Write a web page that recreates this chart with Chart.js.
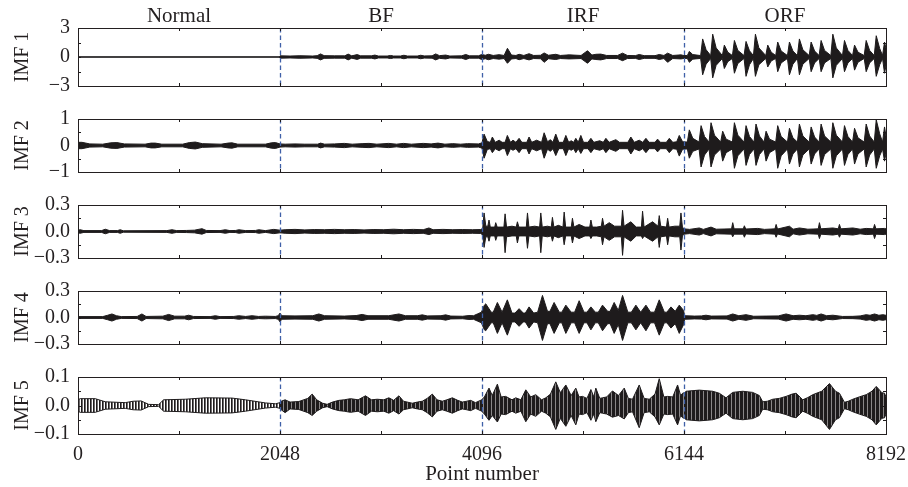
<!DOCTYPE html>
<html>
<head>
<meta charset="utf-8">
<script src="https://cdn.jsdelivr.net/npm/chart.js@4/dist/chart.umd.min.js"></script>
<style>
  html, body { margin: 0; padding: 0; background: #ffffff; }
  #wrap { position: relative; width: 908px; height: 487px; background: #ffffff; overflow: hidden; }
  #wrap canvas { position: absolute; left: 0; }
</style>
</head>
<body>
<div id="wrap">
  <canvas id="c0"></canvas>
  <canvas id="c1"></canvas>
  <canvas id="c2"></canvas>
  <canvas id="c3"></canvas>
  <canvas id="c4"></canvas>
</div>
<script>
// Fault conditions along the concatenated record
const conditionNames = ['Normal', 'BF', 'IRF', 'ORF'];
const conditionCenters = [1024, 3072, 5120, 7168];
const separators = [2048, 4096, 6144];
const pointTicks = [0, 2048, 4096, 6144, 8192];
const pointTickLabels = ['0', '2048', '4096', '6144', '8192'];
const minorPointTicks = [0, 1024, 2048, 3072, 4096, 5120, 6144, 7168, 8192];

// Y axis limits and tick labels per IMF
const imfNames = ['IMF 1', 'IMF 2', 'IMF 3', 'IMF 4', 'IMF 5'];
const imfLimits = [3, 1, 0.3, 0.3, 0.1];
const imfTickLabels = [
  ['\u22123', '0', '3'],
  ['\u22121', '0', '1'],
  ['\u22120.3', '0.0', '0.3'],
  ['\u22120.3', '0.0', '0.3'],
  ['\u22120.1', '0.0', '0.1']
];

// Envelopes of each IMF: [point number, upper envelope, lower envelope]
const imf1Env = [
  [0,0.015,-0.015],[2040,0.015,-0.015],
  [2048,0.12,-0.12],[2150,0.1,-0.1],[2250,0.13,-0.13],[2380,0.1,-0.1],[2425,0.14,-0.14],[2459,0.32,-0.3],[2495,0.14,-0.14],
  [2600,0.12,-0.12],[2705,0.12,-0.12],[2739,0.3,-0.3],[2775,0.12,-0.12],[2831,0.25,-0.25],[2865,0.12,-0.12],[2975,0.12,-0.12],
  [3010,0.2,-0.2],[3045,0.1,-0.1],[3135,0.1,-0.1],[3169,0.16,-0.16],[3200,0.1,-0.1],[3270,0.1,-0.1],[3304,0.18,-0.18],
  [3340,0.1,-0.1],[3440,0.1,-0.1],[3474,0.18,-0.18],[3510,0.11,-0.11],[3590,0.12,-0.12],[3626,0.32,-0.3],[3665,0.14,-0.14],
  [3728,0.2,-0.2],[3770,0.1,-0.1],[3890,0.12,-0.12],[3931,0.26,-0.26],[3970,0.12,-0.12],[4060,0.12,-0.12],[4093,0.26,-0.26],
  [4130,0.18,-0.18],[4161,0.28,-0.28],[4210,0.16,-0.16],[4269,0.24,-0.22],[4320,0.16,-0.16],[4354,0.9,-0.65],[4395,0.2,-0.2],
  [4440,0.16,-0.16],[4472,0.28,-0.28],[4520,0.16,-0.16],[4573,0.34,-0.3],[4620,0.16,-0.16],[4690,0.18,-0.18],[4726,0.42,-0.55],
  [4770,0.18,-0.18],[4844,0.28,-0.26],[4890,0.16,-0.16],[4980,0.22,-0.2],[5100,0.16,-0.16],[5166,0.65,-0.65],[5210,0.2,-0.2],
  [5251,0.28,-0.26],[5300,0.3,-0.3],[5360,0.16,-0.16],[5470,0.16,-0.16],[5521,0.4,-0.38],[5570,0.16,-0.16],[5650,0.14,-0.14],
  [5690,0.26,-0.26],[5740,0.14,-0.14],[5850,0.14,-0.14],[5893,0.26,-0.26],[5940,0.16,-0.16],[5978,0.4,-0.55],[6030,0.16,-0.16],
  [6113,0.22,-0.2],[6144,0.15,-0.15],
  [6178,0.15,-0.15],[6198,0.58,-0.55],[6233,0.25,-0.22],
  [6313,0.15,-0.15],[6333,1.87,-1.84],[6368,0.75,-0.74],
  [6415,0.15,-0.15],[6435,2.36,-2.16],[6470,0.94,-0.86],
  [6533,0.15,-0.15],[6553,1.23,-1.19],[6588,0.5,-0.48],
  [6635,0.15,-0.15],[6655,1.71,-1.68],[6690,0.68,-0.67],
  [6753,0.15,-0.15],[6773,1.61,-2.0],[6808,0.64,-0.8],
  [6848,0.15,-0.15],[6868,2.36,-2.0],[6903,0.94,-0.8],
  [6973,0.15,-0.15],[6993,1.23,-1.03],[7028,0.5,-0.41],
  [7074,0.15,-0.15],[7094,1.55,-1.52],[7129,0.62,-0.61],
  [7193,0.15,-0.15],[7213,1.55,-1.84],[7248,0.62,-0.74],
  [7294,0.15,-0.15],[7314,1.87,-1.84],[7349,0.75,-0.74],
  [7413,0.15,-0.15],[7433,1.55,-1.52],[7468,0.62,-0.61],
  [7514,0.15,-0.15],[7534,1.71,-1.52],[7569,0.68,-0.61],
  [7633,0.15,-0.15],[7653,2.36,-2.16],[7688,0.94,-0.86],
  [7751,0.15,-0.15],[7771,1.71,-1.52],[7806,0.68,-0.61],
  [7853,0.15,-0.15],[7873,1.23,-1.36],[7908,0.5,-0.54],
  [7971,0.15,-0.15],[7991,1.71,-1.52],[8026,0.68,-0.61],
  [8073,0.15,-0.15],[8093,2.2,-2.0],[8128,0.88,-0.8],
  [8157,0.15,-0.15],[8177,1.55,-1.68],[8192,0.9,-0.9]
];

const imf2Env = [
  [0,0.12,-0.12],[40,0.12,-0.12],[120,0.06,-0.06],[250,0.05,-0.05],[330,0.1,-0.1],[394,0.11,-0.11],[470,0.06,-0.06],
  [680,0.05,-0.05],[740,0.09,-0.09],[784,0.09,-0.09],[850,0.05,-0.05],[1060,0.05,-0.05],[1130,0.11,-0.11],[1190,0.13,-0.13],
  [1260,0.07,-0.07],[1450,0.05,-0.05],[1520,0.09,-0.09],[1562,0.1,-0.1],[1620,0.05,-0.05],[1900,0.05,-0.05],[1960,0.1,-0.1],
  [2002,0.11,-0.11],[2048,0.06,-0.06],
  [2100,0.05,-0.05],[2200,0.06,-0.06],[2300,0.05,-0.05],[2430,0.05,-0.05],[2459,0.09,-0.09],[2500,0.05,-0.05],[2600,0.06,-0.06],
  [2700,0.08,-0.08],[2780,0.05,-0.05],[2880,0.07,-0.07],[2950,0.08,-0.08],[3030,0.05,-0.05],[3150,0.08,-0.08],[3230,0.05,-0.05],
  [3300,0.08,-0.08],[3380,0.05,-0.05],[3500,0.08,-0.08],[3580,0.06,-0.06],[3650,0.09,-0.09],[3720,0.05,-0.05],[3800,0.07,-0.07],
  [3880,0.05,-0.05],[3950,0.07,-0.07],[4060,0.06,-0.06],
  [4096,0.1,-0.1],[4117,0.43,-0.48],[4150,0.15,-0.15],[4180,0.12,-0.12],[4201,0.32,-0.27],[4230,0.12,-0.12],[4270,0.2,-0.2],
  [4300,0.12,-0.12],[4330,0.12,-0.12],[4353,0.38,-0.38],[4385,0.12,-0.12],[4410,0.2,-0.18],[4440,0.12,-0.12],[4472,0.27,-0.27],
  [4500,0.12,-0.12],[4550,0.12,-0.12],[4573,0.32,-0.32],[4600,0.12,-0.12],[4650,0.2,-0.2],[4700,0.12,-0.12],[4726,0.48,-0.48],
  [4760,0.14,-0.14],[4790,0.22,-0.22],[4815,0.12,-0.12],[4844,0.43,-0.38],[4875,0.12,-0.12],[4920,0.12,-0.12],[4946,0.38,-0.38],
  [4975,0.12,-0.12],[5000,0.18,-0.18],[5025,0.12,-0.12],[5047,0.27,-0.27],[5072,0.12,-0.12],[5098,0.38,-0.3],[5125,0.12,-0.12],
  [5170,0.12,-0.12],[5200,0.27,-0.27],[5230,0.12,-0.12],[5290,0.18,-0.18],[5325,0.12,-0.12],[5352,0.27,-0.27],[5385,0.12,-0.12],
  [5453,0.22,-0.22],[5490,0.12,-0.12],[5575,0.12,-0.12],[5605,0.32,-0.32],[5640,0.12,-0.12],[5690,0.2,-0.2],[5725,0.12,-0.12],
  [5758,0.27,-0.27],[5790,0.12,-0.12],[5850,0.12,-0.12],[5876,0.24,-0.24],[5905,0.12,-0.12],[5965,0.12,-0.12],[5995,0.27,-0.27],
  [6030,0.12,-0.12],[6070,0.14,-0.14],[6096,0.38,-0.4],[6130,0.14,-0.14],
  [6178,0.13,-0.13],[6198,0.59,-0.48],[6233,0.27,-0.22],
  [6297,0.13,-0.13],[6317,0.75,-0.81],[6352,0.34,-0.36],
  [6398,0.13,-0.13],[6418,0.86,-0.81],[6453,0.39,-0.36],
  [6516,0.13,-0.13],[6536,0.54,-0.59],[6571,0.24,-0.27],
  [6635,0.13,-0.13],[6655,0.86,-0.86],[6690,0.39,-0.39],
  [6753,0.13,-0.13],[6773,0.75,-0.75],[6808,0.34,-0.34],
  [6854,0.13,-0.13],[6874,0.81,-0.75],[6909,0.36,-0.34],
  [6956,0.13,-0.13],[6976,0.54,-0.59],[7011,0.24,-0.27],
  [7074,0.13,-0.13],[7094,0.75,-0.86],[7129,0.34,-0.39],
  [7193,0.13,-0.13],[7213,0.65,-0.7],[7248,0.29,-0.32],
  [7294,0.13,-0.13],[7314,0.81,-0.81],[7349,0.36,-0.36],
  [7413,0.13,-0.13],[7433,0.7,-0.7],[7468,0.32,-0.32],
  [7514,0.13,-0.13],[7534,0.81,-0.75],[7569,0.36,-0.34],
  [7633,0.13,-0.13],[7653,0.86,-0.86],[7688,0.39,-0.39],
  [7751,0.13,-0.13],[7771,0.75,-0.75],[7806,0.34,-0.34],
  [7853,0.13,-0.13],[7873,0.65,-0.7],[7908,0.29,-0.32],
  [7971,0.13,-0.13],[7991,0.81,-0.81],[8026,0.36,-0.36],
  [8073,0.13,-0.13],[8093,0.97,-0.86],[8128,0.44,-0.39],
  [8157,0.13,-0.13],[8177,0.7,-0.59],[8192,0.35,-0.3]
];

const imf3Env = [
  [0,0.015,-0.015],[22,0.02,-0.02],[60,0.01,-0.01],[240,0.01,-0.01],[276,0.026,-0.026],[320,0.01,-0.01],[400,0.01,-0.01],
  [428,0.02,-0.02],[460,0.008,-0.008],[900,0.01,-0.01],[953,0.02,-0.02],[1000,0.01,-0.01],[1100,0.012,-0.012],[1180,0.015,-0.015],
  [1257,0.032,-0.03],[1300,0.012,-0.012],[1440,0.01,-0.01],[1494,0.02,-0.02],[1540,0.01,-0.01],[1600,0.012,-0.012],[1629,0.02,-0.02],
  [1700,0.01,-0.01],[1800,0.012,-0.012],[1832,0.02,-0.02],[1900,0.01,-0.01],[1985,0.024,-0.024],[2048,0.015,-0.015],
  [2100,0.02,-0.02],[2200,0.024,-0.024],[2300,0.018,-0.018],[2400,0.022,-0.022],[2500,0.02,-0.02],[2600,0.024,-0.024],
  [2700,0.02,-0.02],[2800,0.022,-0.022],[2900,0.018,-0.018],[3000,0.022,-0.022],[3100,0.02,-0.02],[3200,0.026,-0.026],
  [3300,0.02,-0.02],[3400,0.024,-0.024],[3500,0.02,-0.02],[3558,0.04,-0.035],[3600,0.02,-0.02],[3700,0.024,-0.024],
  [3800,0.02,-0.02],[3900,0.022,-0.022],[4000,0.02,-0.02],[4080,0.022,-0.022],
  [4096,0.03,-0.03],[4105,0.06,-0.06],[4117,0.21,-0.18],[4135,0.06,-0.06],[4155,0.06,-0.06],[4167,0.13,-0.11],[4180,0.05,-0.05],
  [4225,0.05,-0.05],[4235,0.1,-0.1],[4250,0.05,-0.05],[4318,0.05,-0.05],[4330,0.2,-0.24],[4345,0.05,-0.06],[4400,0.06,-0.05],
  [4443,0.05,-0.05],[4455,0.11,-0.13],[4470,0.05,-0.05],[4545,0.05,-0.05],[4557,0.21,-0.19],[4572,0.05,-0.05],[4630,0.06,-0.06],
  [4680,0.05,-0.05],[4692,0.21,-0.24],[4707,0.05,-0.05],[4760,0.06,-0.06],[4798,0.05,-0.05],[4810,0.16,-0.11],[4825,0.05,-0.05],
  [4870,0.07,-0.07],[4917,0.05,-0.05],[4929,0.22,-0.15],[4944,0.05,-0.05],[5001,0.05,-0.05],[5013,0.15,-0.13],[5028,0.05,-0.05],
  [5081,0.08,-0.08],[5140,0.05,-0.05],[5188,0.05,-0.05],[5200,0.13,-0.08],[5215,0.05,-0.05],[5260,0.05,-0.05],[5306,0.06,-0.06],
  [5318,0.15,-0.15],[5333,0.06,-0.06],[5386,0.1,-0.1],[5440,0.06,-0.06],[5509,0.06,-0.06],[5521,0.24,-0.27],[5536,0.06,-0.06],
  [5605,0.11,-0.11],[5660,0.05,-0.05],[5712,0.05,-0.05],[5724,0.23,-0.08],[5739,0.05,-0.05],[5825,0.11,-0.11],[5881,0.06,-0.06],
  [5893,0.18,-0.18],[5908,0.06,-0.06],[5966,0.05,-0.05],[5978,0.15,-0.15],[5993,0.05,-0.05],[6050,0.06,-0.06],[6101,0.06,-0.06],
  [6113,0.21,-0.21],[6128,0.05,-0.05],
  [6144,0.03,-0.03],[6200,0.024,-0.024],[6299,0.04,-0.04],[6340,0.024,-0.024],[6418,0.05,-0.05],[6470,0.026,-0.026],
  [6626,0.03,-0.03],[6638,0.1,-0.06],[6652,0.03,-0.03],[6745,0.03,-0.03],[6756,0.065,-0.065],[6770,0.028,-0.028],
  [6891,0.035,-0.035],[6960,0.024,-0.024],[7066,0.03,-0.03],[7078,0.08,-0.065],[7092,0.028,-0.028],[7213,0.06,-0.06],
  [7250,0.026,-0.026],[7314,0.04,-0.04],[7400,0.026,-0.026],[7505,0.03,-0.03],[7517,0.1,-0.08],[7531,0.03,-0.03],
  [7653,0.04,-0.04],[7708,0.03,-0.03],[7720,0.08,-0.065],[7734,0.03,-0.03],[7856,0.04,-0.04],[7930,0.026,-0.026],
  [7991,0.035,-0.035],[8064,0.03,-0.03],[8076,0.08,-0.08],[8090,0.03,-0.03],[8177,0.035,-0.035],[8192,0.03,-0.03]
];

const imf4Env = [
  [0,0.01,-0.01],[250,0.01,-0.01],[300,0.025,-0.025],[344,0.04,-0.04],[390,0.02,-0.02],[440,0.01,-0.01],[600,0.012,-0.012],
  [648,0.04,-0.04],[690,0.012,-0.012],[860,0.015,-0.015],[919,0.035,-0.035],[980,0.015,-0.015],[1080,0.015,-0.015],
  [1122,0.026,-0.026],[1170,0.012,-0.012],[1340,0.01,-0.01],[1393,0.02,-0.02],[1440,0.01,-0.01],[1580,0.012,-0.012],
  [1629,0.02,-0.02],[1700,0.012,-0.012],[1765,0.02,-0.02],[1830,0.012,-0.012],[1900,0.015,-0.015],[2000,0.012,-0.012],
  [2030,0.02,-0.02],[2048,0.05,-0.05],
  [2065,0.02,-0.02],[2200,0.018,-0.018],[2380,0.02,-0.02],[2442,0.04,-0.04],[2500,0.02,-0.02],[2700,0.016,-0.016],
  [2820,0.022,-0.022],[2881,0.035,-0.035],[2940,0.02,-0.02],[3150,0.02,-0.02],[3254,0.04,-0.04],[3320,0.02,-0.02],
  [3440,0.02,-0.02],[3491,0.03,-0.03],[3540,0.018,-0.018],[3680,0.02,-0.02],[3727,0.03,-0.03],[3780,0.016,-0.016],
  [3900,0.014,-0.014],[3964,0.022,-0.022],[4010,0.02,-0.02],[4049,0.04,-0.04],[4090,0.06,-0.06],
  [4120,0.14,-0.14],[4134,0.155,-0.15],[4190,0.06,-0.06],[4210,0.06,-0.06],[4252,0.17,-0.18],[4300,0.06,-0.06],
  [4353,0.2,-0.2],[4400,0.05,-0.05],[4430,0.05,-0.05],[4472,0.1,-0.1],[4515,0.05,-0.05],[4535,0.05,-0.05],[4573,0.12,-0.12],
  [4620,0.05,-0.05],[4660,0.06,-0.06],[4709,0.25,-0.26],[4760,0.07,-0.07],[4785,0.07,-0.07],[4827,0.17,-0.18],[4880,0.06,-0.06],
  [4905,0.06,-0.06],[4946,0.14,-0.18],[5000,0.06,-0.06],[5035,0.06,-0.06],[5081,0.19,-0.18],[5130,0.06,-0.06],[5160,0.06,-0.06],
  [5200,0.12,-0.14],[5245,0.06,-0.06],[5275,0.06,-0.06],[5318,0.14,-0.15],[5370,0.07,-0.07],[5395,0.07,-0.07],[5436,0.17,-0.18],
  [5478,0.08,-0.08],[5521,0.25,-0.26],[5575,0.06,-0.06],[5610,0.06,-0.06],[5656,0.14,-0.14],[5705,0.06,-0.06],[5758,0.14,-0.15],
  [5805,0.06,-0.06],[5845,0.06,-0.06],[5893,0.2,-0.2],[5945,0.06,-0.06],[5970,0.06,-0.06],[6012,0.12,-0.12],[6055,0.07,-0.07],
  [6096,0.14,-0.18],[6140,0.08,-0.08],
  [6150,0.02,-0.02],[6250,0.016,-0.016],[6320,0.018,-0.018],[6367,0.026,-0.026],[6420,0.016,-0.016],[6580,0.018,-0.018],
  [6638,0.04,-0.04],[6700,0.02,-0.02],[6773,0.032,-0.032],[6850,0.014,-0.014],[6976,0.016,-0.016],[7100,0.018,-0.018],
  [7179,0.04,-0.04],[7250,0.02,-0.02],[7314,0.026,-0.026],[7380,0.02,-0.02],[7450,0.032,-0.032],[7490,0.024,-0.024],
  [7534,0.04,-0.04],[7590,0.02,-0.02],[7653,0.026,-0.026],[7750,0.012,-0.012],[7856,0.013,-0.013],[7930,0.018,-0.018],
  [7991,0.032,-0.032],[8030,0.025,-0.025],[8076,0.04,-0.04],[8120,0.025,-0.025],[8160,0.032,-0.032],[8192,0.025,-0.025]
];

const imf5Env = [
  [0,0.02,-0.02],[22,0.024,-0.024],[174,0.024,-0.024],[276,0.013,-0.013],[479,0.01,-0.01],[560,0.015,-0.015],[640,0.016,-0.016],
  [716,0.004,-0.004],[817,0.003,-0.003],[868,0.02,-0.02],[1088,0.022,-0.022],[1291,0.027,-0.027],[1562,0.026,-0.026],
  [1697,0.02,-0.02],[1900,0.009,-0.009],[2002,0.006,-0.006],[2048,0.01,-0.01],
  [2060,0.015,-0.015],[2100,0.02,-0.025],[2150,0.012,-0.012],[2239,0.014,-0.014],[2330,0.025,-0.025],[2374,0.04,-0.035],
  [2420,0.02,-0.02],[2480,0.008,-0.008],[2526,0.004,-0.004],[2580,0.012,-0.012],[2645,0.018,-0.018],[2700,0.02,-0.02],
  [2763,0.024,-0.024],[2840,0.02,-0.02],[2915,0.034,-0.035],[2975,0.02,-0.02],[3034,0.022,-0.022],[3100,0.02,-0.02],
  [3152,0.027,-0.027],[3200,0.018,-0.018],[3254,0.034,-0.03],[3300,0.015,-0.015],[3389,0.008,-0.008],[3440,0.012,-0.012],
  [3491,0.015,-0.015],[3540,0.025,-0.025],[3592,0.04,-0.04],[3640,0.02,-0.02],[3694,0.015,-0.015],[3740,0.02,-0.02],
  [3795,0.027,-0.027],[3850,0.018,-0.018],[3897,0.012,-0.012],[3940,0.015,-0.015],[3981,0.018,-0.018],[4030,0.01,-0.01],
  [4093,0.02,-0.02],
  [4120,0.03,-0.03],[4167,0.061,-0.052],[4200,0.035,-0.035],[4252,0.075,-0.058],[4290,0.03,-0.03],[4336,0.032,-0.032],
  [4400,0.02,-0.02],[4438,0.027,-0.027],[4490,0.02,-0.02],[4540,0.055,-0.057],[4590,0.03,-0.03],[4641,0.038,-0.038],
  [4700,0.02,-0.02],[4743,0.027,-0.027],[4790,0.04,-0.04],[4844,0.083,-0.084],[4890,0.045,-0.045],[4946,0.072,-0.073],
  [5000,0.035,-0.035],[5047,0.061,-0.068],[5080,0.03,-0.03],[5115,0.032,-0.032],[5160,0.025,-0.025],[5200,0.056,-0.052],
  [5230,0.03,-0.03],[5250,0.061,-0.057],[5290,0.025,-0.025],[5318,0.027,-0.027],[5360,0.03,-0.03],[5419,0.051,-0.041],
  [5480,0.035,-0.035],[5538,0.061,-0.047],[5580,0.025,-0.025],[5622,0.022,-0.022],[5690,0.072,-0.078],[5740,0.025,-0.025],
  [5792,0.022,-0.022],[5850,0.04,-0.04],[5893,0.094,-0.068],[5940,0.03,-0.03],[5978,0.032,-0.032],[6030,0.03,-0.03],
  [6079,0.072,-0.068],[6110,0.035,-0.035],[6130,0.043,-0.043],
  [6150,0.045,-0.045],[6164,0.05,-0.05],[6299,0.054,-0.054],[6435,0.05,-0.05],[6502,0.043,-0.043],[6570,0.027,-0.027],
  [6638,0.046,-0.046],[6740,0.05,-0.05],[6840,0.046,-0.046],[6908,0.035,-0.035],[6942,0.013,-0.013],[6990,0.015,-0.015],
  [7044,0.022,-0.022],[7110,0.025,-0.025],[7179,0.032,-0.032],[7240,0.04,-0.04],[7281,0.043,-0.043],[7348,0.02,-0.02],
  [7400,0.028,-0.028],[7450,0.038,-0.038],[7540,0.05,-0.05],[7619,0.077,-0.084],[7680,0.05,-0.05],[7720,0.043,-0.043],
  [7771,0.011,-0.011],[7810,0.015,-0.015],[7856,0.022,-0.022],[7920,0.03,-0.03],[7991,0.038,-0.038],[8050,0.05,-0.05],
  [8093,0.067,-0.068],[8150,0.045,-0.045],[8177,0.043,-0.043],[8192,0.03,-0.03]
];

const imfEnvs = [imf1Env, imf2Env, imf3Env, imf4Env, imf5Env];

// ---- styling and layout ----
const INK = '#1e1b1c';
const TEXT = '#231f20';
const DASH = '#3f60a8';
const FONT = "'Liberation Serif', 'Times New Roman', serif";
const panelTop = [28, 115, 201, 287, 373];
const panelBottom = [90, 176, 262, 348, 434];
const MARGIN = 16;

// vertical stripe fills for the oscillatory IMF 5 trace
function stripes(cols) {
  const c = document.createElement('canvas');
  c.width = cols.length; c.height = 1;
  const g = c.getContext('2d');
  cols.forEach((col, i) => { g.fillStyle = col; g.fillRect(i, 0, 1, 1); });
  return g.createPattern(c, 'repeat');
}
const sparseFill = stripes(['#1e1b1c', '#6d6a6b', '#ffffff']);
const denseFill = stripes(['#1e1b1c', '#1e1b1c', '#1e1b1c', '#8a8788']);

// box, inward ticks and condition separators
const framePlugin = {
  id: 'frame',
  afterDatasetsDraw(chart, args, opts) {
    const { ctx, chartArea: { left, right, top, bottom }, scales: { x, y } } = chart;
    ctx.save();
    ctx.strokeStyle = DASH;
    ctx.lineWidth = 1.3;
    ctx.setLineDash([4.5, 3]);
    separators.forEach(v => {
      const px = Math.round(x.getPixelForValue(v)) + 0.5;
      ctx.beginPath(); ctx.moveTo(px, top); ctx.lineTo(px, bottom); ctx.stroke();
    });
    ctx.setLineDash([]);
    ctx.strokeStyle = INK;
    ctx.lineWidth = 1;
    const tl = 3;
    minorPointTicks.forEach(v => {
      const px = Math.round(x.getPixelForValue(v)) + 0.5;
      ctx.beginPath();
      ctx.moveTo(px, top); ctx.lineTo(px, top + tl);
      ctx.moveTo(px, bottom); ctx.lineTo(px, bottom - tl);
      ctx.stroke();
    });
    opts.yTicks.forEach(v => {
      const py = Math.round(y.getPixelForValue(v)) + 0.5;
      ctx.beginPath();
      ctx.moveTo(left, py); ctx.lineTo(left + tl, py);
      ctx.moveTo(right, py); ctx.lineTo(right - tl, py);
      ctx.stroke();
    });
    ctx.strokeStyle = '#231f20';
    ctx.strokeRect(left + 0.5, top + 0.5, right - left, bottom - top);
    ctx.restore();
  }
};

function buildDatasets(env, i) {
  const segments = i === 4
    ? [{ pts: env.filter(e => e[0] <= 2048), fill: sparseFill },
       { pts: env.filter(e => e[0] >= 2048), fill: denseFill }]
    : [{ pts: env, fill: INK }];
  const out = [];
  segments.forEach(seg => {
    out.push({
      data: seg.pts.map(e => ({ x: e[0], y: e[1] })),
      borderColor: INK, borderWidth: 1, pointRadius: 0, fill: false
    });
    out.push({
      data: seg.pts.map(e => ({ x: e[0], y: e[2] })),
      borderColor: INK, borderWidth: 1, pointRadius: 0, fill: '-1', backgroundColor: seg.fill
    });
  });
  return out;
}

imfEnvs.forEach((env, i) => {
  const canvas = document.getElementById('c' + i);
  const cTop = i === 0 ? 0 : panelTop[i] - MARGIN;
  const cBottom = i === 4 ? 487 : panelBottom[i] + MARGIN;
  canvas.width = 908;
  canvas.height = cBottom - cTop;
  canvas.style.top = cTop + 'px';

  const lim = imfLimits[i];
  const labelVals = [-lim, 0, lim];
  const yTicks = [-lim, -lim / 2, 0, lim / 2, lim];

  let xScale;
  if (i === 0) {
    xScale = {
      type: 'linear', min: 0, max: 8192, position: 'top',
      grid: { display: false, drawTicks: false }, border: { display: false },
      afterBuildTicks: s => { s.ticks = conditionCenters.map(v => ({ value: v })); },
      ticks: { padding: -1, maxRotation: 0, autoSkip: false, color: TEXT,
               font: { family: FONT, size: 21 }, callback: (v, k) => conditionNames[k] },
      afterFit: s => { s.height = panelTop[0]; s.paddingLeft = 0; s.paddingRight = 0; }
    };
  } else if (i === 4) {
    xScale = {
      type: 'linear', min: 0, max: 8192, position: 'bottom',
      grid: { display: false, drawTicks: false }, border: { display: false },
      afterBuildTicks: s => { s.ticks = pointTicks.map(v => ({ value: v })); },
      ticks: { padding: 9, maxRotation: 0, autoSkip: false, color: TEXT,
               font: { family: FONT, size: 20 }, callback: (v, k) => pointTickLabels[k] },
      title: { display: true, text: 'Point number', color: TEXT,
               font: { family: FONT, size: 21 }, padding: { top: 0, bottom: 0 } },
      afterFit: s => { s.height = 487 - panelBottom[4]; s.paddingLeft = 0; s.paddingRight = 0; }
    };
  } else {
    xScale = { type: 'linear', min: 0, max: 8192, display: false };
  }

  new Chart(canvas, {
    type: 'line',
    data: { datasets: buildDatasets(env, i) },
    options: {
      responsive: false,
      animation: false,
      devicePixelRatio: 1,
      events: [],
      layout: { padding: { left: 0, right: 22,
                           top: i === 0 ? 0 : MARGIN,
                           bottom: i === 4 ? 0 : MARGIN } },
      elements: { line: { tension: 0 } },
      plugins: { legend: { display: false }, tooltip: { enabled: false }, frame: { yTicks } },
      scales: {
        x: xScale,
        y: {
          type: 'linear', min: -lim, max: lim,
          grid: { display: false, drawTicks: false }, border: { display: false },
          afterBuildTicks: s => { s.ticks = labelVals.map(v => ({ value: v })); },
          ticks: { padding: 8, color: TEXT, font: { family: FONT, size: 20 },
                   callback: (v, k) => imfTickLabels[i][k] },
          title: { display: true, text: imfNames[i], color: TEXT,
                   font: { family: FONT, size: 20 }, padding: { top: 11, bottom: 0 } },
          afterFit: s => { s.width = 78; }
        }
      }
    },
    plugins: [framePlugin]
  });
});
</script>
</body>
</html>
